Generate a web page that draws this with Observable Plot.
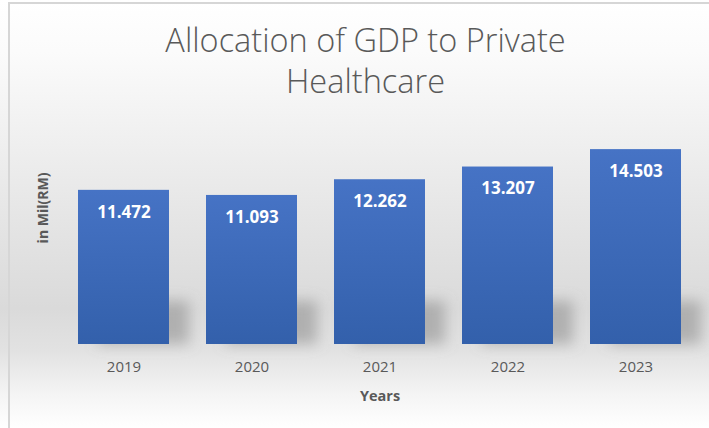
<!DOCTYPE html>
<html>
<head>
<meta charset="utf-8">
<script src="https://cdn.jsdelivr.net/npm/d3@7"></script>
<script src="https://cdn.jsdelivr.net/npm/@observablehq/plot@0.6"></script>
<style>
  html, body { margin: 0; padding: 0; background: #fff; }
  #chart {
    position: relative; width: 709px; height: 428px; overflow: hidden;
    background: linear-gradient(to bottom, #ffffff 0%, #fbfbfb 12%, #f1f1f1 30%, #e3e3e3 55%, #dadada 72%, #e2e2e2 82%, #f4f4f4 92%, #ffffff 100%);
  }
  #frame {
    position: absolute; left: 8px; top: 2px; right: -2px; bottom: -2px;
    border-left: 2px solid #d6d6d6; border-top: 2px solid #d6d6d6;
    pointer-events: none;
  }
  #title {
    position: absolute; left: 11px; width: 709px; top: 19px; text-align: center;
    font-family: "Open Sans", sans-serif; font-weight: 300; font-size: 32.5px;
    line-height: 41px; color: #595959; z-index: 2;
  }
  #chart svg { position: absolute; left: 0; top: 0; }
</style>
</head>
<body>
<div id="chart">
  <div id="title">Allocation of GDP to Private<br>Healthcare</div>
  <div id="frame"></div>
</div>
<script>
const years = ["2019", "2020", "2021", "2022", "2023"];
const values = [11.472, 11.093, 12.262, 13.207, 14.503];
const labels = ["11.472", "11.093", "12.262", "13.207", "14.503"];
const xTitle = "Years";
const yTitle = "in Mil(RM)";
const yMax = 16;
const shadowDepth = 3.2;

const data = years.map((y, i) => ({year: y, value: values[i], label: labels[i]}));

const plot = Plot.plot({
  width: 709,
  height: 428,
  marginLeft: 58,
  marginRight: 8,
  marginTop: 129,
  marginBottom: 84,
  style: {background: "transparent", fontFamily: "Open Sans, sans-serif"},
  x: {domain: years, paddingInner: 0.29, paddingOuter: 0.145, label: null},
  y: {domain: [0, yMax], axis: null},
  marks: [
    Plot.barY(data, {x: "year", y1: 0, y2: () => shadowDepth, dx: 20, fill: "#8a8a8a", fillOpacity: 0.55}),
    Plot.barY(data, {x: "year", y: "value", fill: "url(#barGrad)"}),
    Plot.text(data, {x: "year", y: "value", text: "label", dy: 22, fill: "white", fontWeight: "bold", fontSize: 17}),
    Plot.axisX({tickSize: 0, tickPadding: 17, fontSize: 15, color: "#595959", label: null}),
    Plot.text([xTitle], {frameAnchor: "bottom", dy: 56, fontWeight: "bold", fontSize: 14.5, fill: "#595959"}),
    Plot.text([yTitle], {frameAnchor: "left", textAnchor: "middle", rotate: -90, dx: -15, dy: -29, fontWeight: "bold", fontSize: 14, fill: "#595959"})
  ]
});

const svg = d3.select(plot);
const defs = svg.insert("defs", ":first-child");
const g = defs.append("linearGradient").attr("id", "barGrad").attr("x1", 0).attr("y1", 0).attr("x2", 0).attr("y2", 1);
g.append("stop").attr("offset", "0%").attr("stop-color", "#4673c5");
g.append("stop").attr("offset", "100%").attr("stop-color", "#3360ab");
const f = defs.append("filter").attr("id", "blurShadow").attr("x", "-50%").attr("y", "-50%").attr("width", "200%").attr("height", "200%");
f.append("feGaussianBlur").attr("stdDeviation", 7);
const barGroups = svg.selectAll('g[aria-label="bar"]').nodes();
if (barGroups.length) d3.select(barGroups[0]).attr("filter", "url(#blurShadow)");

document.getElementById("chart").insertBefore(plot, document.getElementById("frame"));
</script>
</body>
</html>
